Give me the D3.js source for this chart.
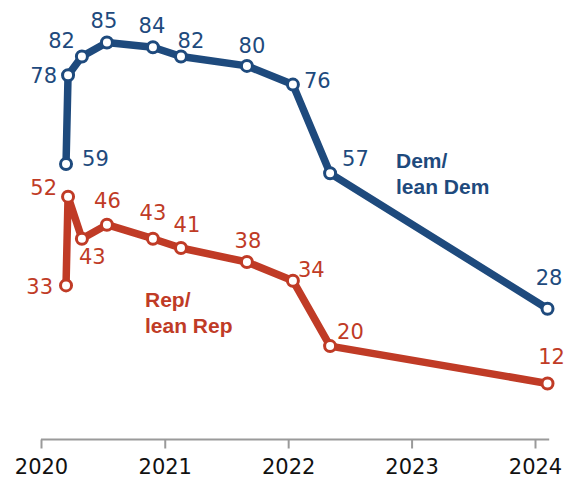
<!DOCTYPE html>
<html>
<head>
<meta charset="utf-8">
<script src="https://cdn.jsdelivr.net/npm/d3@7"></script>
<style>
  html, body { margin: 0; padding: 0; background: #fff; }
  svg { display: block; }
</style>
</head>
<body>
<svg id="chart" width="573" height="481"></svg>
<script>
// ---- data ----
const surveyDates = ["2020-03-15","2020-03-21","2020-05-01","2020-07-14","2020-11-27","2021-02-18","2021-09-01","2022-01-15","2022-05-05","2024-02-07"];
const demValues = [59, 78, 82, 85, 84, 82, 80, 76, 57, 28];
const repValues = [33, 52, 43, 46, 43, 41, 38, 34, 20, 12];
const tickYears = ["2020","2021","2022","2023","2024"];
const demName = ["Dem/", "lean Dem"];
const repName = ["Rep/", "lean Rep"];

// ---- label placement (dx, dy from point, anchor) ----
const demLabelPos = [[16,2,"start"],[-11,8,"end"],[-7,-9,"end"],[-3,-15,"middle"],[-1,-14,"middle"],[10,-9,"middle"],[5,-13,"middle"],[11,3,"start"],[12,-7,"start"],[1.5,-24,"middle"]];
const repLabelPos = [[-13,9,"end"],[-11,-2,"end"],[-3,25,"start"],[0.5,-17,"middle"],[0,-19,"middle"],[6,-16,"middle"],[1,-14,"middle"],[5,-4,"start"],[7,-7,"start"],[4,-19,"middle"]];

const demColor = "#1e4a7d";
const repColor = "#c03b26";

const parse = d3.timeParse("%Y-%m-%d");
const dates = surveyDates.map(parse);

const svg = d3.select("#chart");

const x = d3.scaleTime()
  .domain([parse("2020-01-01"), parse("2024-01-01")])
  .range([41, 535]);
const y = d3.scaleLinear()
  .domain([0, 100])
  .range([439.5, -27.5]);

// axis
const axisG = svg.append("g").attr("transform", `translate(0,${y(0)})`);
axisG.append("line")
  .attr("x1", x(parse("2020-01-01"))).attr("x2", x(parse("2024-02-12")))
  .attr("y1", 0).attr("y2", 0)
  .attr("stroke", "#9a9a9a").attr("stroke-width", 2);
const axis = d3.axisBottom(x)
  .tickValues(tickYears.map(t => parse(t + "-01-01")))
  .tickFormat((d, i) => tickYears[i])
  .tickSize(9)
  .tickSizeOuter(0)
  .tickPadding(11);
axisG.call(axis);
axisG.select(".domain").remove();
axisG.selectAll(".tick line").attr("stroke", "#9a9a9a").attr("stroke-width", 2);
axisG.selectAll(".tick text")
  .attr("fill", "#111")
  .style("font-family", "'DejaVu Sans', sans-serif")
  .style("font-size", "21px");

function drawSeries(values, color, labelPos) {
  const pts = values.map((v, i) => ({ date: dates[i], value: v, pos: labelPos[i] }));
  const line = d3.line().x(d => x(d.date)).y(d => y(d.value));
  const g = svg.append("g");
  g.append("path")
    .datum(pts)
    .attr("d", line)
    .attr("fill", "none")
    .attr("stroke", color)
    .attr("stroke-width", 7.5)
    .attr("stroke-linejoin", "round")
    .attr("stroke-linecap", "round");
  g.selectAll("circle")
    .data(pts)
    .join("circle")
    .attr("cx", d => x(d.date))
    .attr("cy", d => y(d.value))
    .attr("r", 5.5)
    .attr("fill", "#fff")
    .attr("stroke", color)
    .attr("stroke-width", 3);
  g.selectAll("text")
    .data(pts)
    .join("text")
    .attr("x", d => x(d.date) + d.pos[0])
    .attr("y", d => y(d.value) + d.pos[1])
    .attr("text-anchor", d => d.pos[2])
    .attr("fill", color)
    .style("font-family", "'DejaVu Sans', sans-serif")
    .style("font-size", "21px")
    .text(d => d.value);
}

drawSeries(demValues, demColor, demLabelPos);
drawSeries(repValues, repColor, repLabelPos);

function seriesName(lines, color, xPos, yPos) {
  const t = svg.append("text")
    .attr("x", xPos).attr("y", yPos)
    .attr("fill", color)
    .style("font-family", "'Liberation Sans', Arial, sans-serif")
    .style("font-weight", "bold")
    .style("font-size", "21px");
  lines.forEach((l, i) => {
    t.append("tspan").attr("x", xPos).attr("dy", i === 0 ? 0 : 26).text(l);
  });
}
seriesName(demName, demColor, 396, 168);
seriesName(repName, repColor, 145, 307);
</script>
</body>
</html>
